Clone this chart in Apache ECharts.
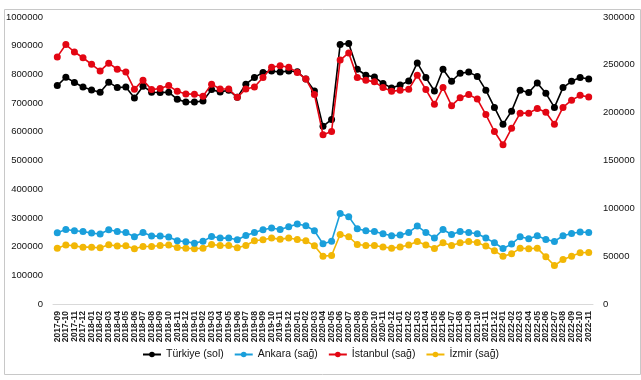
<!DOCTYPE html>
<html>
<head>
<meta charset="utf-8">
<script src="https://cdn.jsdelivr.net/npm/echarts@6/dist/echarts.min.js"></script>
<style>
html,body{margin:0;padding:0;background:#fff;}
#c{width:641px;height:380px;}
</style>
</head>
<body>
<div id="c"></div>
<script>
const categories = [
  '2017-09','2017-10','2017-11','2017-12',
  '2018-01','2018-02','2018-03','2018-04','2018-05','2018-06','2018-07','2018-08','2018-09','2018-10','2018-11','2018-12',
  '2019-01','2019-02','2019-03','2019-04','2019-05','2019-06','2019-07','2019-08','2019-09','2019-10','2019-11','2019-12',
  '2020-01','2020-02','2020-03','2020-04','2020-05','2020-06','2020-07','2020-08','2020-09','2020-10','2020-11','2020-12',
  '2021-01','2021-02','2021-03','2021-04','2021-05','2021-06','2021-07','2021-08','2021-09','2021-10','2021-11','2021-12',
  '2022-01','2022-02','2022-03','2022-04','2022-05','2022-06','2022-07','2022-08','2022-09','2022-10','2022-11'
];

const turkiye = [761000,790000,772000,756000,746000,738000,773000,754000,756000,718000,
  759000,738000,737000,738000,713000,704000,704000,707000,747000,739000,
  745000,720000,766000,789000,807000,812000,808000,812000,809000,784000,
  742000,619000,643000,904000,908000,818000,797000,791000,768000,753000,
  763000,777000,840000,789000,742000,818000,776000,804000,808000,793000,
  745000,685000,626000,672000,745000,737000,770000,734000,685000,754000,
  776000,789000,784000];

const ankara = [74500,77900,76600,75800,74100,73100,77600,75800,74800,70300,
  74800,71000,71000,70000,66100,65000,63600,65500,70600,68900,
  68900,67100,71600,74800,77600,79400,77900,80800,83600,81800,
  76600,62900,65700,94700,91300,78700,76600,75800,73400,71300,
  72000,74800,81500,74800,68900,77900,72700,75800,74800,73400,
  68900,64000,58000,62600,70300,68200,71300,67400,65400,71300,
  73700,75200,74800];

const istanbul = [258300,271200,263400,257400,250500,243600,251700,245400,242400,224400,
  234000,224100,225300,228300,222300,219600,219300,217200,229800,224700,
  224700,216000,224700,226800,236700,247500,249000,247500,242100,235200,
  219000,177000,180300,255000,262500,236700,234000,232200,226200,222300,
  223500,224400,239100,224100,208800,226200,207300,215700,219000,214200,
  198000,180300,166500,183600,199500,199500,204300,200400,187800,205500,
  213000,218100,216300];

const izmir = [58400,61600,60800,59400,59400,58700,61900,60500,60800,57700,
  60100,60100,61200,61600,59100,58400,57700,58400,62200,61200,
  61200,58700,61200,66100,67100,68900,67800,68900,67400,66100,
  60800,50000,50700,72700,70300,62200,61200,61200,59500,58400,
  59500,61600,65400,61600,58000,64000,61200,64000,65400,64300,
  60500,55600,50000,52400,58400,57700,58400,49300,40200,46500,
  50000,53500,53800];

const seriesNames = ['Türkiye (sol)', 'Ankara (sağ)', 'İstanbul (sağ)', 'İzmir (sağ)'];
const colors = ['#000000', '#1a9fdb', '#e30613', '#f2b705'];

const chart = echarts.init(document.getElementById('c'), null, {renderer: 'canvas'});

function mkSeries(name, data, color, yIdx, z) {
  return {
    name: name, type: 'line', data: data, yAxisIndex: yIdx,
    symbol: 'circle', symbolSize: 7, z: z,
    lineStyle: {color: color, width: 1.6},
    itemStyle: {color: color},
    emphasis: {disabled: true},
    animation: false
  };
}

const FONT = 'Liberation Sans, Arial, sans-serif';
const plain = function (v) { return String(v); };

chart.setOption({
  animation: false,
  backgroundColor: '#ffffff',
  graphic: [{
    type: 'rect', left: 2, top: 7, silent: true, z: -1,
    shape: {width: 636, height: 365},
    style: {fill: 'none', stroke: '#c8c8c8', lineWidth: 1}
  }],
  grid: {left: 53, right: 48, top: 17, bottom: 76, containLabel: false},
  legend: {
    bottom: 15, left: 'center',
    itemWidth: 18, itemHeight: 7, itemGap: 10,
    textStyle: {fontFamily: FONT, fontSize: 10.5, color: '#111'},
    data: seriesNames
  },
  xAxis: {
    type: 'category', data: categories, boundaryGap: true,
    axisLine: {show: true, lineStyle: {color: '#d9d9d9', width: 1}},
    axisTick: {show: false},
    axisLabel: {interval: 0, rotate: 90, fontSize: 8.5, fontWeight: 'bold',
      fontFamily: FONT, color: '#222', margin: 7}
  },
  yAxis: [{
    type: 'value', min: 0, max: 1000000, interval: 100000, position: 'left',
    axisLine: {show: false}, axisTick: {show: false}, splitLine: {show: false},
    axisLabel: {fontSize: 9.5, fontFamily: FONT, color: '#111', margin: 10, formatter: plain}
  }, {
    type: 'value', min: 0, max: 300000, interval: 50000, position: 'right',
    axisLine: {show: false}, axisTick: {show: false}, splitLine: {show: false},
    axisLabel: {fontSize: 9.5, fontFamily: FONT, color: '#111', margin: 10, formatter: plain}
  }],
  series: [
    mkSeries(seriesNames[0], turkiye, colors[0], 0, 4),
    mkSeries(seriesNames[1], ankara, colors[1], 1, 3),
    mkSeries(seriesNames[2], istanbul, colors[2], 1, 5),
    mkSeries(seriesNames[3], izmir, colors[3], 1, 2)
  ]
});
</script>
</body>
</html>
